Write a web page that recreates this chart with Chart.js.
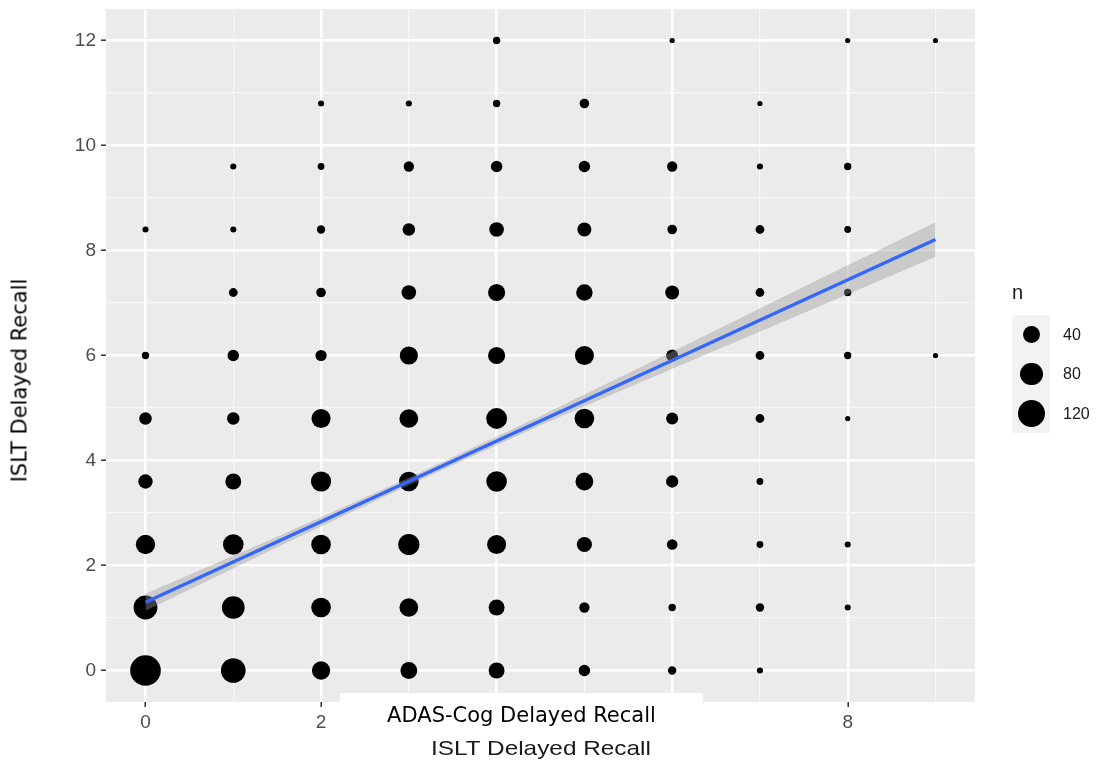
<!DOCTYPE html>
<html>
<head>
<meta charset="utf-8">
<script src="https://cdn.jsdelivr.net/npm/chart.js@4.4.1/dist/chart.umd.min.js"></script>
<style>
html,body{margin:0;padding:0;background:#fff;}
#wrap{position:relative;width:1099px;height:761px;overflow:hidden;background:#fff;}
#c{position:absolute;left:0;top:0;}
.ov{position:absolute;white-space:nowrap;}
#xtitle{left:341px;top:737px;width:400px;text-align:center;font-family:"Liberation Sans",Arial,sans-serif;font-size:21px;line-height:21px;color:#1a1a1a;transform:scaleX(1.16);transform-origin:center;}
#box{left:340px;top:693px;width:363px;height:48px;background:#fff;}
#boxtext{left:340px;top:705px;width:363px;text-align:center;font-family:"DejaVu Sans",sans-serif;font-size:21px;line-height:21px;color:#000;}
#ytitle{left:-180px;top:370px;width:400px;height:21px;text-align:center;font-family:"DejaVu Sans",sans-serif;font-size:21px;line-height:21px;color:#000;transform:rotate(-90deg);}
#legtitle{left:1012px;top:282px;font-family:"Liberation Sans",Arial,sans-serif;font-size:20px;line-height:20px;color:#1a1a1a;}
#legkeys{position:absolute;left:1012px;top:315px;width:38px;height:118px;background:#F2F2F2;}
.legdot{position:absolute;background:#000;border-radius:50%;}
.leglab{position:absolute;left:1063px;font-family:"Liberation Sans",Arial,sans-serif;font-size:16px;line-height:16px;color:#1a1a1a;white-space:nowrap;}
</style>
</head>
<body>
<div id="wrap">
<canvas id="c" width="1099" height="761"></canvas>
<div id="xtitle" class="ov">ISLT Delayed Recall</div>
<div id="box" class="ov"></div>
<div id="boxtext" class="ov">ADAS-Cog Delayed Recall</div>
<div id="ytitle" class="ov">ISLT Delayed Recall</div>
<div id="legtitle" class="ov">n</div>
<div id="legkeys"></div>
</div>
<script>
// ---- data ----
const xValues = [
  0,1,2,3,4,5,6,7,
  0,1,2,3,4,5,6,7,8,
  0,1,2,3,4,5,6,7,8,
  0,1,2,3,4,5,6,7,
  0,1,2,3,4,5,6,7,8,
  0,1,2,3,4,5,6,7,8,9,
  1,2,3,4,5,6,7,8,
  0,1,2,3,4,5,6,7,8,
  1,2,3,4,5,6,7,8,
  2,3,4,5,7,
  4,6,8,9
];
const yValues = [
  0,0,0,0,0,0,0,0,
  1.2,1.2,1.2,1.2,1.2,1.2,1.2,1.2,1.2,
  2.4,2.4,2.4,2.4,2.4,2.4,2.4,2.4,2.4,
  3.6,3.6,3.6,3.6,3.6,3.6,3.6,3.6,
  4.8,4.8,4.8,4.8,4.8,4.8,4.8,4.8,4.8,
  6,6,6,6,6,6,6,6,6,6,
  7.2,7.2,7.2,7.2,7.2,7.2,7.2,7.2,
  8.4,8.4,8.4,8.4,8.4,8.4,8.4,8.4,8.4,
  9.6,9.6,9.6,9.6,9.6,9.6,9.6,9.6,
  10.8,10.8,10.8,10.8,10.8,
  12,12,12,12
];
const counts = [
  161,99,49,40,35,15,6,2,
  91,82,58,52,35,11,4,6,2,
  56,65,58,70,54,31,12,3,2,
  27,35,62,58,65,46,18,3,
  19,19,54,52,67,58,17,7,1,
  4,15,14,48,42,54,17,7,4,1,
  7,9,28,42,38,25,7,4,
  2,2,6,19,28,25,9,7,3,
  2,3,11,15,15,11,2,4,
  2,2,4,9,1,
  4,1,1,1
];
const trendX = [0, 9];
const trendY = [1.30, 8.21];
const bandX = [0, 1.5, 3, 4.5, 6, 7.5, 9];
const bandUpper = [1.46, 2.55, 3.67, 4.85, 6.07, 7.31, 8.54];
const bandLower = [1.14, 2.35, 3.53, 4.67, 5.75, 6.81, 7.88];
const xMajorTicks = [0, 2, 4, 6, 8];
const xMinorTicks = [1, 3, 5, 7, 9];
const yMajorTicks = [0, 2, 4, 6, 8, 10, 12];
const yMinorTicks = [1, 3, 5, 7, 9, 11];
const legendValues = [40, 80, 120];

// ---- size scale (area-like, n -> diameter in px) ----
function dotDiameter(n){ return 0.95 * (3.2 + 2.29 * Math.sqrt(n)); }

const points = xValues.map((x, i) => ({x: x, y: yValues[i], r: dotDiameter(counts[i]) / 2}));
const trend = trendX.map((x, i) => ({x: x, y: trendY[i]}));
const upper = bandX.map((x, i) => ({x: x, y: bandUpper[i]}));
const lower = bandX.map((x, i) => ({x: x, y: bandLower[i]}));

const xTicksAll = xMajorTicks.concat(xMinorTicks).sort((a,b)=>a-b);
const yTicksAll = yMajorTicks.concat(yMinorTicks).sort((a,b)=>a-b);

const panelBg = {
  id: 'panelBg',
  beforeDraw(chart){
    const a = chart.chartArea, ctx = chart.ctx;
    ctx.save();
    ctx.fillStyle = '#EBEBEB';
    ctx.fillRect(a.left, a.top, a.right - a.left, a.bottom - a.top);
    ctx.restore();
  }
};

Chart.defaults.font.family = '"Liberation Sans", Arial, sans-serif';

function gridOpts(majors){
  return {
    color: c => majors.includes(c.tick.value) ? '#FFFFFF' : '#F8F8F8',
    lineWidth: c => majors.includes(c.tick.value) ? 2.4 : 1.2,
    tickColor: c => majors.includes(c.tick.value) ? '#333333' : 'rgba(0,0,0,0)',
    tickLength: 5,
    tickWidth: 1.5,
    drawTicks: true
  };
}

function noPad(s){ s.paddingTop = 0; s.paddingBottom = 0; s.paddingLeft = 0; s.paddingRight = 0; }

new Chart(document.getElementById('c'), {
  type: 'bubble',
  data: {
    datasets: [
      {type: 'line', label: 'fit', data: trend, borderColor: '#3366FF', borderWidth: 3.2, pointRadius: 0, fill: false, order: 0},
      {type: 'line', label: 'upper', data: upper, borderColor: 'rgba(0,0,0,0)', borderWidth: 0, pointRadius: 0, fill: false, order: 1},
      {type: 'line', label: 'lower', data: lower, borderColor: 'rgba(0,0,0,0)', borderWidth: 0, pointRadius: 0, fill: '-1', backgroundColor: 'rgba(153,153,153,0.4)', order: 1},
      {type: 'bubble', label: 'n', data: points, backgroundColor: '#000000', borderWidth: 0, hoverRadius: 0, order: 2}
    ]
  },
  options: {
    responsive: false,
    animation: false,
    devicePixelRatio: 1,
    events: [],
    layout: {autoPadding: false, padding: {top: 9, right: 124, bottom: 0, left: 0}},
    plugins: {legend: {display: false}, tooltip: {enabled: false}},
    scales: {
      x: {
        type: 'linear', min: -0.45, max: 9.45,
        afterBuildTicks: s => { s.ticks = xTicksAll.map(v => ({value: v})); },
        afterFit: s => { s.height = 59; noPad(s); },
        border: {display: false},
        grid: gridOpts(xMajorTicks),
        ticks: {autoSkip: false, maxRotation: 0, padding: 4, color: '#4D4D4D', font: {size: 19},
          callback: v => xMajorTicks.includes(v) ? String(v) : ''}
      },
      y: {
        type: 'linear', min: -0.6, max: 12.6,
        afterBuildTicks: s => { s.ticks = yTicksAll.map(v => ({value: v})); },
        afterFit: s => { s.width = 106; noPad(s); },
        border: {display: false},
        grid: gridOpts(yMajorTicks),
        ticks: {autoSkip: false, padding: 5, color: '#4D4D4D', font: {size: 19},
          callback: v => yMajorTicks.includes(v) ? String(v) : ''}
      }
    }
  },
  plugins: [panelBg]
});

// ---- size legend ----
const keys = document.getElementById('legkeys');
const wrap = document.getElementById('wrap');
const keyH = 118 / legendValues.length;
legendValues.forEach((v, i) => {
  const d = dotDiameter(v);
  const cy = keyH * (i + 0.5);
  const dot = document.createElement('div');
  dot.className = 'legdot';
  dot.style.width = d + 'px';
  dot.style.height = d + 'px';
  dot.style.left = (19.5 - d / 2) + 'px';
  dot.style.top = (cy - d / 2) + 'px';
  keys.appendChild(dot);
  const lab = document.createElement('div');
  lab.className = 'leglab';
  lab.textContent = String(v);
  lab.style.top = (315 + cy - 7.8) + 'px';
  wrap.appendChild(lab);
});
</script>
</body>
</html>
